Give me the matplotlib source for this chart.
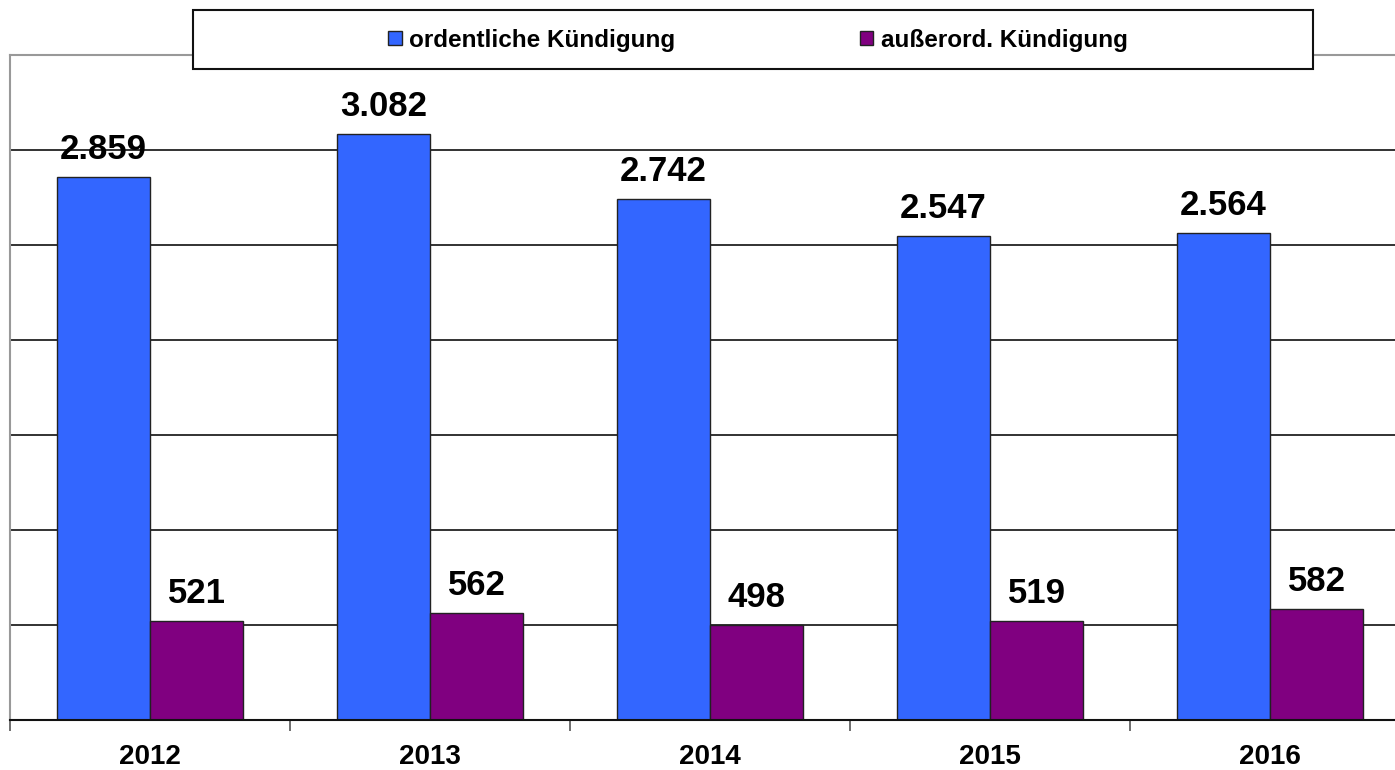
import matplotlib.pyplot as plt
from matplotlib.patches import Rectangle
import numpy as np

years = ["2012", "2013", "2014", "2015", "2016"]
ordentlich = [2859, 3082, 2742, 2547, 2564]
ausserord = [521, 562, 498, 519, 582]
series_names = ["ordentliche Kündigung", "außerord. Kündigung"]

BLUE = "#3366ff"
PURPLE = "#800080"
plt.rcParams["font.family"] = ["Liberation Sans", "DejaVu Sans"]

W, H = 1395, 770
fig = plt.figure(figsize=(W / 100, H / 100), dpi=100)
# axes runs past the right edge of the canvas, as in the original
ax = fig.add_axes([10 / W, 50 / H, 1400 / W, 665 / H])

x = np.arange(len(years))
bw = 1 / 3
b1 = ax.bar(x - bw / 2, ordentlich, bw, color=BLUE, edgecolor="#222222", lw=1, zorder=3,
            label=series_names[0])
b2 = ax.bar(x + bw / 2, ausserord, bw, color=PURPLE, edgecolor="#222222", lw=1, zorder=3,
            label=series_names[1])

fmt = lambda v: f"{v:,}".replace(",", ".")
for bars, vals in ((b1, ordentlich), (b2, ausserord)):
    for r, v in zip(bars, vals):
        ax.annotate(fmt(v), (r.get_x() + r.get_width() / 2, r.get_height()),
                    xytext=(0, 13), textcoords="offset points", ha="center",
                    va="baseline", fontsize=25, fontweight="bold", zorder=4)

ax.set_xlim(-0.5, 4.5)
ax.set_ylim(0, 3500)
ax.set_yticks(range(500, 3001, 500))
ax.yaxis.grid(True, color="#222222", lw=1.3, zorder=1)
ax.tick_params(axis="y", length=0, labelleft=False)

ax.set_xticks(x)
ax.set_xticklabels(years, fontsize=20, fontweight="bold")
ax.set_xticks(np.arange(-0.5, 5, 1), minor=True)
ax.tick_params(axis="x", which="major", length=0, pad=17)
ax.tick_params(axis="x", which="minor", length=8, width=1.2, color="#555555")

for s in ("left", "top"):
    ax.spines[s].set_color("#999999")
    ax.spines[s].set_linewidth(1.5)
ax.spines["right"].set_visible(False)
ax.spines["bottom"].set_color("#111111")
ax.spines["bottom"].set_linewidth(1.5)
ax.spines["bottom"].set_zorder(5)

# legend box
fig.patches.append(Rectangle((193 / W, 1 - 69 / H), 1120 / W, 59 / H,
                             transform=fig.transFigure, facecolor="white",
                             edgecolor="#111111", lw=1.5, zorder=4))
fig.legend(handles=[b1, b2], loc="center", bbox_to_anchor=(758 / W, 1 - 40 / H),
           ncol=2, frameon=False, prop={"weight": "bold", "size": 17.5},
           handlelength=0.55, handleheight=0.55, handletextpad=0.3,
           columnspacing=7.6)

fig.savefig("out.png", dpi=100, facecolor="white")
